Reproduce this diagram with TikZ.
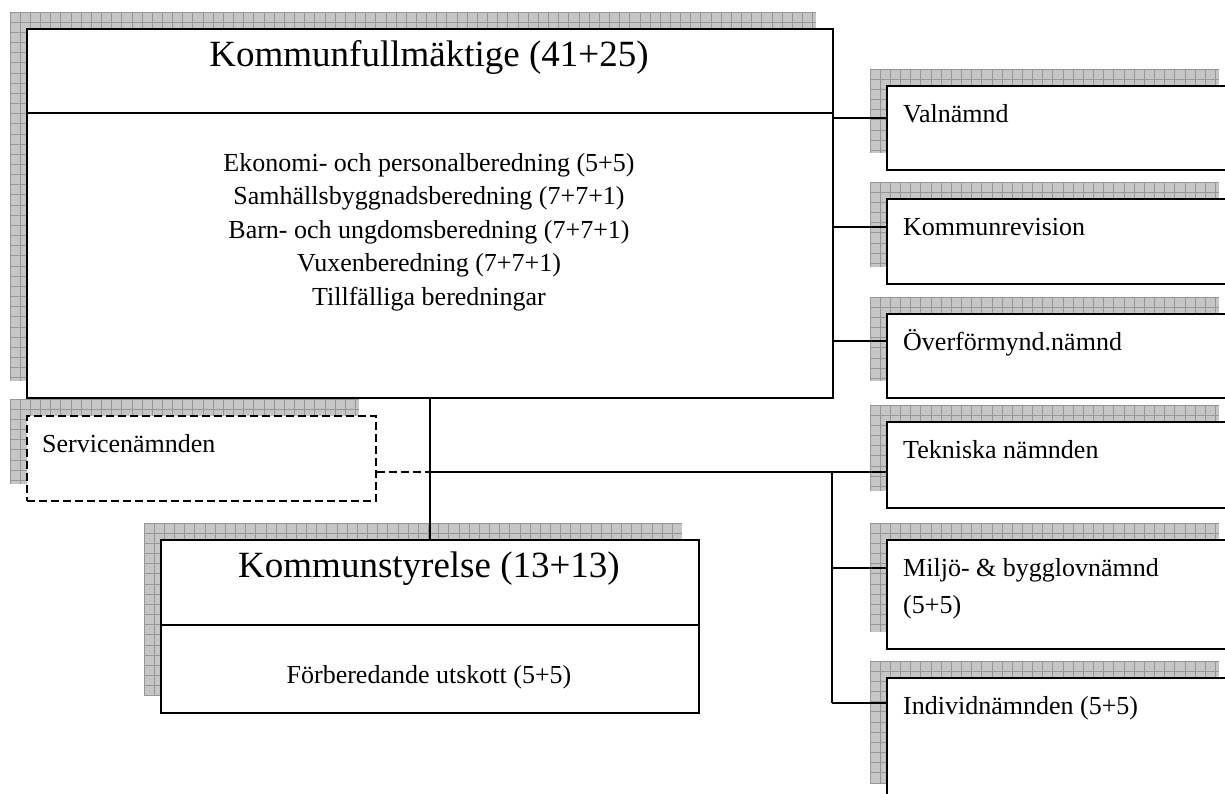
\documentclass[tikz,border=0pt]{standalone}
\usepackage{fontspec}
\setmainfont{Liberation Serif}
\definecolor{shfill}{RGB}{198,198,198}
\definecolor{shgrid}{RGB}{150,150,150}
\tikzset{
  box/.style={draw=black, line width=2pt, fill=white, anchor=north west, inner sep=0pt},
  dbox/.style={box, line width=1.6pt, dash pattern=on 8pt off 4pt},
  conn/.style={draw=black, line width=1.5pt},
  big/.style={font=\fontsize{37}{44}\selectfont, inner sep=0pt},
  txt/.style={font=\fontsize{26}{33}\selectfont, inner sep=0pt},
}
\newcommand\shadowrect[4]{%
  \begin{scope}[shift={(#1-16,#2-16)}]
    \begin{scope}
      \clip (0,0) rectangle (#3,#4);
      \fill[shfill] (0,0) rectangle (#3,#4);
      \foreach \gx in {0,10.16,...,#3} \draw[shgrid, line width=0.8pt] (\gx,0) -- (\gx,#4);
      \foreach \gy in {0,10.16,...,#4} \draw[shgrid, line width=0.8pt] (0,\gy) -- (#3,\gy);
    \end{scope}
  \end{scope}}
\begin{document}
\begin{tikzpicture}[x=1pt, y=-1pt]
\useasboundingbox (0,0) rectangle (1225,793);
\clip (0,0) rectangle (1225,793);
% shadows
\shadowrect{26}{28}{806}{369}
\shadowrect{26}{415}{349}{85}
\shadowrect{160}{539}{538}{173}
\shadowrect{886}{85}{349}{84}
\shadowrect{886}{198}{349}{85}
\shadowrect{886}{313}{349}{84}
\shadowrect{886}{421}{349}{86}
\shadowrect{886}{539}{349}{109}
\shadowrect{886}{677}{349}{122}
% boxes
\node[box, minimum width=806pt, minimum height=369pt] (kf) at (26,28) {};
\node[dbox, minimum width=349pt, minimum height=85pt] (sv) at (26,415) {};
\node[box, minimum width=538pt, minimum height=173pt] (ks) at (160,539) {};
\node[box, minimum width=349pt, minimum height=84pt] (val) at (886,85) {};
\node[box, minimum width=349pt, minimum height=85pt] (rev) at (886,198) {};
\node[box, minimum width=349pt, minimum height=84pt] (ovf) at (886,313) {};
\node[box, minimum width=349pt, minimum height=86pt] (tek) at (886,421) {};
\node[box, minimum width=349pt, minimum height=109pt] (mil) at (886,539) {};
\node[box, minimum width=349pt, minimum height=122pt] (ind) at (886,677) {};
% dividers
\draw[line width=2pt] (kf.west |- 0,113) -- (kf.east |- 0,113);
\draw[line width=2pt] (ks.west |- 0,625) -- (ks.east |- 0,625);
% texts
\node[big, anchor=base] (kft) at (429,66) {Kommunfullmäktige (41+25)};
\node[txt, anchor=base] (kf1) at (429,171) {Ekonomi- och personalberedning (5+5)};
\node[txt, anchor=base] (kf2) at (429,204.5) {Samhällsbyggnadsberedning (7+7+1)};
\node[txt, anchor=base] (kf3) at (429,238) {Barn- och ungdomsberedning (7+7+1)};
\node[txt, anchor=base] (kf4) at (429,271.5) {Vuxenberedning (7+7+1)};
\node[txt, anchor=base] (kf5) at (429,305) {Tillfälliga beredningar};
\node[big, anchor=base] (kst) at (429,577) {Kommunstyrelse (13+13)};
\node[txt, anchor=base] (ks1) at (429,683) {Förberedande utskott (5+5)};
\node[txt, anchor=base west] (svt) at (42,452) {Servicenämnden};
\node[txt, anchor=base west] (valt) at (903,122) {Valnämnd};
\node[txt, anchor=base west] (revt) at (903,235) {Kommunrevision};
\node[txt, anchor=base west] (ovft) at (903,350) {Överförmynd.nämnd};
\node[txt, anchor=base west] (tekt) at (903,458) {Tekniska nämnden};
\node[txt, anchor=base west] (milt) at (903,576) {Miljö- \& bygglovnämnd};
\node[txt, anchor=base west] (milt2) at (903,613) {(5+5)};
\node[txt, anchor=base west] (indt) at (903,714) {Individnämnden (5+5)};
% connectors
\coordinate (j) at (429,472);
\coordinate (pv) at (832,118);
\coordinate (pr) at (832,227);
\coordinate (po) at (832,341);
\coordinate (pt) at (832,472);
\coordinate (pm) at (832,568);
\coordinate (pi) at (832,703);
\draw[conn] (kf.south) -- (ks.north);
\draw[conn] (j) -- (tek.west |- j);
\draw[conn, dash pattern=on 8pt off 4pt] (sv.east |- j) -- (j);
\draw[conn] (pt) -- (pi);
\draw[conn] (pv) -- (val.west |- pv);
\draw[conn] (pr) -- (rev.west |- pr);
\draw[conn] (po) -- (ovf.west |- po);
\draw[conn] (pm) -- (mil.west |- pm);
\draw[conn] (pi) -- (ind.west |- pi);
\end{tikzpicture}
\end{document}
